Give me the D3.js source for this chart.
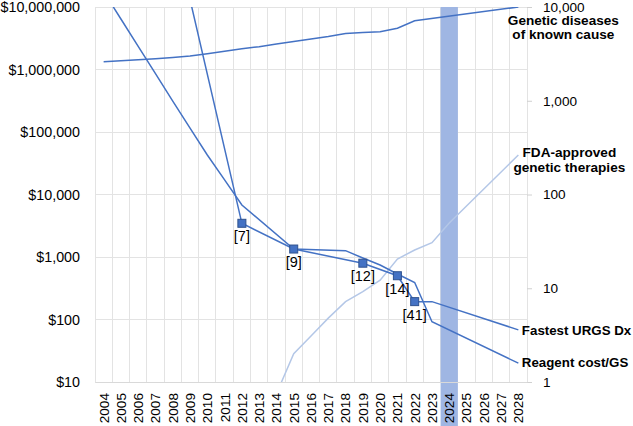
<!DOCTYPE html>
<html>
<head>
<meta charset="utf-8">
<script src="https://cdn.jsdelivr.net/npm/d3@7"></script>
<style>
  html, body { margin: 0; padding: 0; background: #ffffff; }
  svg { display: block; }
  text { font-family: "Liberation Sans", Arial, sans-serif; fill: #000; }
</style>
</head>
<body>
<svg id="chart" width="633" height="426"></svg>
<script>
// ---------- DATA ----------
const years = ["2004","2005","2006","2007","2008","2009","2010","2011","2012","2013","2014","2015","2016",
               "2017","2018","2019","2020","2021","2022","2023","2024","2025","2026","2027","2028"];

// Right axis: number of genetic diseases of known cause
const geneticDiseases = [2610, 2670, 2730, 2800, 2890, 3000, 3180, 3380, 3580, 3770, 4030, 4290, 4560,
                         4850, 5220, 5350, 5450, 5940, 7140, null, null, null, null, null, 10000];

// Right axis: FDA-approved genetic therapies
const fdaTherapies = [null, null, null, null, null, null, null, null, null, null, 0.75, 2, 3.1,
                      4.8, 7.2, 9.2, 12.2, 20.5, 25.6, 30.6, 49.7, null, null, null, 264];

// Left axis: reagent cost per genome sequence ($)
const reagentCost = [17600000, 6430000, 2350000, 857000, 313000, 115000, 42900, 17100, 6790, null, null, 1343, null,
                     null, 1262, 964, 745, 534, 391, 92, null, null, null, null, 20];

// Right axis: fastest ultra-rapid genome sequencing diagnosis (hours)
const fastestURGS = [null, null, null, null, null, 12000, null, null, 49.3, null, null, 26.2, null,
                     null, null, 18.5, null, 13.6, 7.2, 7.2, null, null, null, null, 3.6];

// Cited references for URGS records
const refYears = ["2012", "2015", "2019", "2021", "2022"];
const refLabels = ["[7]", "[9]", "[12]", "[14]", "[41]"];

const highlightYear = "2024";

const leftTicks = [10, 100, 1000, 10000, 100000, 1000000, 10000000];
const rightTicks = [1, 10, 100, 1000, 10000];

const seriesNames = {
  genetic: ["Genetic diseases", "of known cause"],
  fda: ["FDA-approved", "genetic therapies"],
  urgs: ["Fastest URGS Dx"],
  reagent: ["Reagent cost/GS"]
};

// ---------- LAYOUT ----------
const L = 95, R = 527, T = 7, B = 382;
const svg = d3.select("#chart");

const x = d3.scaleBand().domain(years).range([L, R]).padding(0);
const yL = d3.scaleLog().domain([10, 1e7]).range([B, T]);
const yR = d3.scaleLog().domain([1, 1e4]).range([B, T]);
const cx = d => x(d) + x.bandwidth() / 2;

const gridColor = "#e3e3e3";
const lineColor = "#4472c4";
const lightColor = "#b4c7e7";

// Gridlines
const grid = svg.append("g");
const vBounds = years.map(d => x(d)).concat([R]);
grid.selectAll("line.v").data(vBounds).enter().append("line")
  .attr("x1", d => d).attr("x2", d => d).attr("y1", T).attr("y2", B)
  .attr("stroke", gridColor).attr("stroke-width", 1).attr("shape-rendering", "crispEdges");
grid.selectAll("line.h").data(leftTicks).enter().append("line")
  .attr("x1", L).attr("x2", R).attr("y1", d => yL(d)).attr("y2", d => yL(d))
  .attr("stroke", gridColor).attr("stroke-width", 1).attr("shape-rendering", "crispEdges");

// Highlight bar for 2024
svg.append("rect")
  .attr("x", x(highlightYear)).attr("width", x.bandwidth())
  .attr("y", T).attr("height", 426 - T)
  .attr("fill", "#9fb6e3");

// Left axis
const leftAxis = d3.axisLeft(yL).tickValues(leftTicks).tickFormat(d3.format("$,.0f")).tickSize(0).tickPadding(15);
const gL = svg.append("g").attr("transform", `translate(${L},0)`).call(leftAxis);
gL.select(".domain").remove();
gL.selectAll("text").style("font-size", "14.3px").style("font-family", "'Liberation Sans', Arial, sans-serif");

// Right axis
const rightAxis = d3.axisRight(yR).tickValues(rightTicks).tickFormat(d3.format(",")).tickSize(5).tickPadding(11);
const gR = svg.append("g").attr("transform", `translate(${R},0)`).call(rightAxis);
gR.select(".domain").remove();
gR.selectAll(".tick line").attr("stroke", "#d0d0d0");
gR.selectAll("text").style("font-size", "13.6px").style("font-family", "'Liberation Sans', Arial, sans-serif");

// Bottom axis (rotated year labels)
const bottomAxis = d3.axisBottom(x).tickSize(0).tickPadding(0);
const gB = svg.append("g").attr("transform", `translate(0,${B})`).call(bottomAxis);
gB.select(".domain").attr("stroke", "#d9d9d9");
gB.selectAll("text")
  .style("font-size", "13.6px").style("font-family", "'Liberation Sans', Arial, sans-serif")
  .attr("text-anchor", "end")
  .attr("transform", "rotate(-90)")
  .attr("x", -11).attr("y", 0).attr("dy", "0.36em");

// Clip
svg.append("clipPath").attr("id", "plotclip").append("rect")
  .attr("x", L).attr("y", T).attr("width", R - L).attr("height", B - T);
const plot = svg.append("g").attr("clip-path", "url(#plotclip)");

function pts(arr) {
  return years.map((yr, i) => ({ yr, v: arr[i] })).filter(d => d.v != null);
}
const lineR = d3.line().x(d => cx(d.yr)).y(d => yR(d.v));
const lineL = d3.line().x(d => cx(d.yr)).y(d => yL(d.v));

plot.append("path").attr("d", lineR(pts(fdaTherapies)))
  .attr("fill", "none").attr("stroke", lightColor).attr("stroke-width", 1.5);
plot.append("path").attr("d", lineR(pts(geneticDiseases)))
  .attr("fill", "none").attr("stroke", lineColor).attr("stroke-width", 1.5);
plot.append("path").attr("d", lineL(pts(reagentCost)))
  .attr("fill", "none").attr("stroke", lineColor).attr("stroke-width", 1.5);
plot.append("path").attr("d", lineR(pts(fastestURGS)))
  .attr("fill", "none").attr("stroke", lineColor).attr("stroke-width", 1.5);

// Markers and reference labels
const refData = refYears.map((yr, i) => ({ yr, label: refLabels[i], v: fastestURGS[years.indexOf(yr)] }));
svg.selectAll("rect.mk").data(refData).enter().append("rect")
  .attr("x", d => cx(d.yr) - 4).attr("y", d => yR(d.v) - 4)
  .attr("width", 8).attr("height", 8)
  .attr("fill", lineColor).attr("stroke", "#2f528f").attr("stroke-width", 1);
svg.selectAll("text.ref").data(refData).enter().append("text")
  .attr("x", d => cx(d.yr)).attr("y", d => yR(d.v) + 18)
  .attr("text-anchor", "middle")
  .style("font-size", "14.5px")
  .text(d => d.label);

// Series labels
const last = years[years.length - 1];
const endX = cx(last);
function label(lines, x0, y0, anchor, lh, size) {
  const t = svg.append("text").attr("text-anchor", anchor)
    .style("font-size", size + "px").style("font-weight", "bold");
  lines.forEach((s, i) => t.append("tspan").attr("x", x0).attr("y", y0 + i * lh).text(s));
}
label(seriesNames.genetic, endX + 45, yR(geneticDiseases[24]) + 17.5, "middle", 14.5, 13.6);
label(seriesNames.fda, endX + 51, yR(fdaTherapies[24]) + 2.5, "middle", 14.5, 13.6);
label(seriesNames.urgs, endX + 3.5, yR(fastestURGS[24]) + 5.5, "start", 13, 13.3);
label(seriesNames.reagent, endX + 3.5, yL(reagentCost[24]) + 4, "start", 13, 13.3);
</script>
</body>
</html>
